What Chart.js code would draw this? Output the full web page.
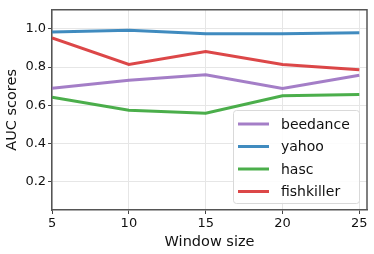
<!DOCTYPE html>
<html>
<head>
<meta charset="utf-8">
<script src="https://cdn.jsdelivr.net/npm/chart.js@4"></script>
<style>
  html, body { margin: 0; padding: 0; background: #fff; }
  #wrap { width: 374px; height: 254px; }
</style>
</head>
<body>
<div id="wrap"><canvas id="myChart" width="374" height="254"></canvas></div>
<script>
var windowSizes = [5, 10, 15, 20, 25];
var beedance = [0.688, 0.731, 0.759, 0.688, 0.757];
var yahoo = [0.983, 0.993, 0.974, 0.974, 0.979];
var hasc = [0.642, 0.573, 0.558, 0.649, 0.656];
var fishkiller = [0.953, 0.813, 0.881, 0.813, 0.785];
var seriesNames = ["beedance", "yahoo", "hasc", "fishkiller"];
var lineColors = ["rgba(148,103,189,0.85)", "rgba(31,119,180,0.85)", "rgba(44,160,44,0.85)", "rgba(214,39,40,0.85)"];
var yTicks = [0.2, 0.4, 0.6, 0.8, 1.0];

function points(vals) {
    return vals.map(function (v, i) { return { x: windowSizes[i], y: v }; });
}

var allSeries = [beedance, yahoo, hasc, fishkiller];
var datasets = allSeries.map(function (vals, i) {
    return {
        label: seriesNames[i],
        data: points(vals),
        borderColor: lineColors[i],
        backgroundColor: lineColors[i],
        borderWidth: 3,
        pointRadius: 0,
        tension: 0
    };
});

var FONT = "'DejaVu Sans', sans-serif";

// top/right spines + legend inside the plot, lower right
var insideLegend = {
    id: "insideLegend",
    afterDraw: function (chart) {
        var ctx = chart.ctx;
        var area = chart.chartArea;
        ctx.save();
        ctx.strokeStyle = "#555";
        ctx.lineWidth = 1.5;
        ctx.beginPath();
        ctx.moveTo(area.left, area.top);
        ctx.lineTo(area.right, area.top);
        ctx.lineTo(area.right, area.bottom);
        ctx.stroke();

        var boxW = 126, boxH = 93;
        var x0 = area.right - 8 - boxW;
        var y0 = area.bottom - 7 - boxH;
        ctx.fillStyle = "rgba(255,255,255,0.85)";
        ctx.strokeStyle = "#d9d9d9";
        ctx.lineWidth = 1;
        ctx.beginPath();
        if (ctx.roundRect) ctx.roundRect(x0 + 0.5, y0 + 0.5, boxW, boxH, 3);
        else ctx.rect(x0 + 0.5, y0 + 0.5, boxW, boxH);
        ctx.fill();
        ctx.stroke();
        ctx.font = "14px " + FONT;
        ctx.textBaseline = "middle";
        chart.data.datasets.forEach(function (ds, i) {
            var cy = y0 + 14 + i * 22.5;
            ctx.strokeStyle = ds.borderColor;
            ctx.lineWidth = 3;
            ctx.beginPath();
            ctx.moveTo(x0 + 5, cy);
            ctx.lineTo(x0 + 36, cy);
            ctx.stroke();
            ctx.fillStyle = "#111";
            ctx.fillText(ds.label, x0 + 48, cy + 1);
        });
        ctx.restore();
    }
};

new Chart("myChart", {
    type: "line",
    data: { datasets: datasets },
    plugins: [insideLegend],
    options: {
        responsive: false,
        animation: false,
        layout: { padding: { left: 4, right: 7, top: 2, bottom: 3 } },
        plugins: {
            legend: { display: false },
            tooltip: { enabled: false }
        },
        scales: {
            x: {
                type: "linear",
                min: 5,
                max: 25.5,
                afterBuildTicks: function (axis) {
                    axis.ticks = windowSizes.map(function (v) { return { value: v }; });
                },
                grid: { color: "#e6e6e6", lineWidth: 1, drawTicks: true, tickLength: 4, tickColor: "#444" },
                border: { color: "#555", width: 1.5 },
                ticks: { color: "#111", font: { family: FONT, size: 13 }, padding: 2, maxRotation: 0 },
                title: { display: true, text: "Window size", color: "#111", font: { family: FONT, size: 14.5 }, padding: { top: 0, bottom: 0 } }
            },
            y: {
                min: 0.05,
                max: 1.1,
                afterBuildTicks: function (axis) {
                    axis.ticks = yTicks.map(function (v) { return { value: v }; });
                },
                grid: { color: "#e6e6e6", lineWidth: 1, drawTicks: true, tickLength: 4, tickColor: "#444" },
                border: { color: "#555", width: 1.5 },
                ticks: {
                    color: "#111", font: { family: FONT, size: 13 }, padding: 2,
                    callback: function (v) { return v.toFixed(1); }
                },
                title: { display: true, text: "AUC scores", color: "#111", font: { family: FONT, size: 14.5 }, padding: { top: 0, bottom: 2 } }
            }
        }
    }
});
</script>
</body>
</html>
